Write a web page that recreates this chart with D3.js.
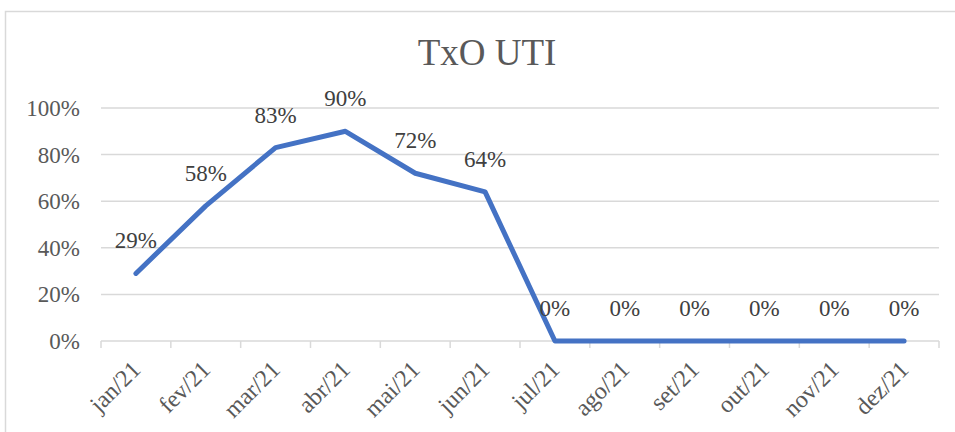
<!DOCTYPE html>
<html>
<head>
<meta charset="utf-8">
<script src="https://cdn.jsdelivr.net/npm/d3@7"></script>
<style>
  body { margin: 0; background: #fff; }
  svg { display: block; }
  svg text { font-family: "Liberation Serif", "Times New Roman", serif; }
</style>
</head>
<body>
<svg id="chart" width="955" height="432"></svg>
<script>
// data
const months = ["jan/21", "fev/21", "mar/21", "abr/21", "mai/21", "jun/21",
                "jul/21", "ago/21", "set/21", "out/21", "nov/21", "dez/21"];
const txo = [0.29, 0.58, 0.83, 0.90, 0.72, 0.64, 0, 0, 0, 0, 0, 0];
const yTicks = [0, 0.2, 0.4, 0.6, 0.8, 1.0];

const svg = d3.select("#chart");

// chart frame
svg.append("rect")
  .attr("x", 5.5).attr("y", 11.5)
  .attr("width", 1000).attr("height", 500)
  .attr("fill", "none")
  .attr("stroke", "#d9d9d9")
  .attr("stroke-width", 1.5);

// title
svg.append("text")
  .attr("x", 487).attr("y", 65)
  .attr("text-anchor", "middle")
  .attr("font-size", 37)
  .attr("fill", "#595959")
  .text("TxO UTI");

const x = d3.scaleBand().domain(months).range([101, 939]);
const y = d3.scaleLinear().domain([0, 1]).range([341, 108]);
const pct = d3.format(".0%");

//gridlines
svg.append("g").selectAll("line")
  .data(yTicks.filter(d => d > 0))
  .enter().append("line")
  .attr("x1", 101).attr("x2", 939)
  .attr("y1", d => y(d)).attr("y2", d => y(d))
  .attr("stroke", "#d9d9d9").attr("stroke-width", 1.5);

// y labels
svg.append("g").selectAll("text")
  .data(yTicks)
  .enter().append("text")
  .attr("x", 80)
  .attr("y", d => y(d) + 8)
  .attr("text-anchor", "end")
  .attr("font-size", 23)
  .attr("fill", "#595959")
  .text(pct);

// x axis line + ticks
const xAxis = svg.append("g");
xAxis.append("line")
  .attr("x1", 101).attr("x2", 939)
  .attr("y1", y(0)).attr("y2", y(0))
  .attr("stroke", "#d9d9d9").attr("stroke-width", 1.5);
xAxis.selectAll("line.tick")
  .data(months.concat(["end"]))
  .enter().append("line")
  .attr("class", "tick")
  .attr("x1", (d, i) => 101 + i * x.step())
  .attr("x2", (d, i) => 101 + i * x.step())
  .attr("y1", y(0)).attr("y2", y(0) + 7)
  .attr("stroke", "#d9d9d9").attr("stroke-width", 1.5);

// x labels, rotated
svg.append("g").selectAll("text")
  .data(months)
  .enter().append("text")
  .attr("transform", d => "translate(" + (x(d) + x.bandwidth() / 2 + 6) + "," + 371 + ") rotate(-45)")
  .attr("text-anchor", "end")
  .attr("font-size", 24)
  .attr("fill", "#595959")
  .text(d => d);

// the line
const line = d3.line()
  .x((d, i) => x(months[i]) + x.bandwidth() / 2)
  .y(d => y(d));

svg.append("path")
  .datum(txo)
  .attr("d", line)
  .attr("fill", "none")
  .attr("stroke", "#4472c4")
  .attr("stroke-width", 5)
  .attr("stroke-linecap", "round")
  .attr("stroke-linejoin", "round");

// data labels
svg.append("g").selectAll("text")
  .data(txo)
  .enter().append("text")
  .attr("x", (d, i) => x(months[i]) + x.bandwidth() / 2)
  .attr("y", d => y(d) - 25)
  .attr("text-anchor", "middle")
  .attr("font-size", 23)
  .attr("fill", "#404040")
  .text(pct);
</script>
</body>
</html>
